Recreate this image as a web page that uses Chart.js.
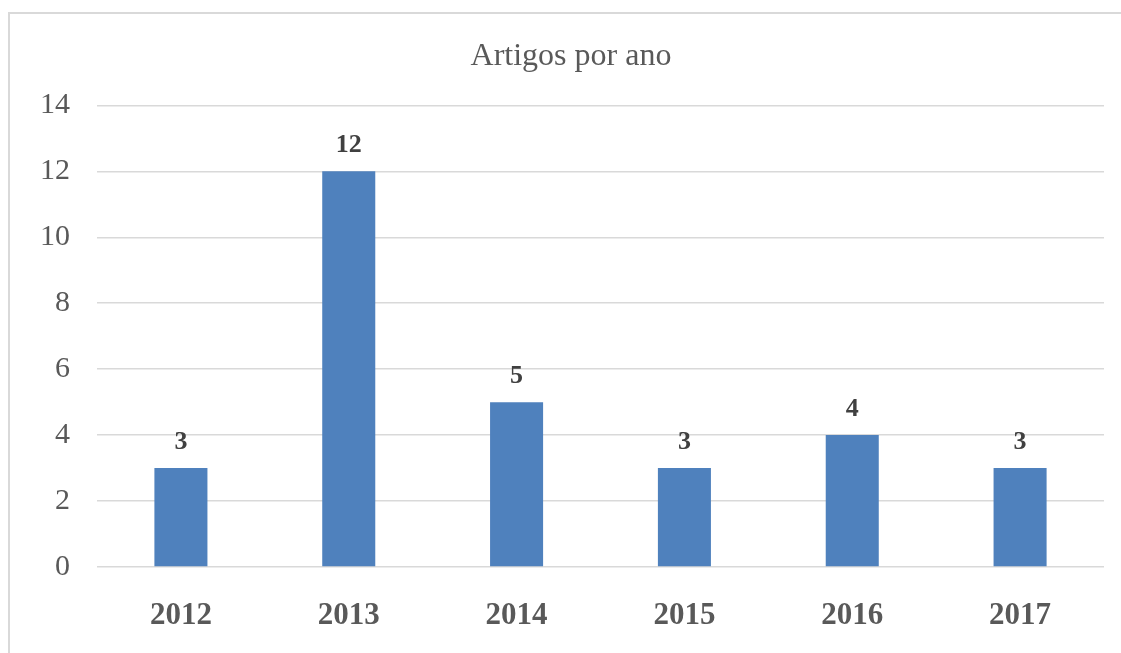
<!DOCTYPE html>
<html>
<head>
<meta charset="utf-8">
<script src="https://cdn.jsdelivr.net/npm/chart.js@4/dist/chart.umd.min.js"></script>
<style>
  html, body { margin: 0; padding: 0; background: #fff; overflow: hidden; }
  #frame { position: absolute; left: 8px; top: 12px; width: 1200px; height: 800px;
           border: 2px solid #d9d9d9; box-sizing: border-box; }
  #wrap { position: absolute; left: 0; top: 0; width: 1121px; height: 653px; }
</style>
</head>
<body>
<div id="frame"></div>
<div id="wrap"><canvas id="anoChart" width="1121" height="653"></canvas></div>
<script>
var years = ["2012", "2013", "2014", "2015", "2016", "2017"];
var artigos = [3, 12, 5, 3, 4, 3];
var yMin = 0, yMax = 14, yStep = 2;

// values above the bars
var valueLabels = {
    id: "valueLabels",
    afterDatasetsDraw: function(chart) {
        var ctx = chart.ctx;
        var meta = chart.getDatasetMeta(0);
        ctx.save();
        ctx.font = "bold 26px 'Liberation Serif'";
        ctx.fillStyle = "#404040";
        ctx.textAlign = "center";
        ctx.textBaseline = "middle";
        meta.data.forEach(function(bar, i) {
            ctx.fillText(artigos[i], bar.x, bar.y - 26);
        });
        ctx.restore();
    }
};

var config = {
    type: "bar",
    data: {
        labels: years,
        datasets: [{
            label: "Artigos",
            data: artigos,
            backgroundColor: "#4f81bd",
            categoryPercentage: 1,
            barPercentage: 0.316
        }]
    },
    options: {
        responsive: false,
        animation: false,
        layout: { padding: { left: 38, right: 17, top: 0, bottom: 0 } },
        plugins: {
            legend: { display: false },
            tooltip: { enabled: false },
            title: {
                display: true,
                text: "Artigos por ano",
                color: "#595959",
                font: { family: "Liberation Serif", size: 32, weight: "normal", lineHeight: 1.2 },
                padding: { top: 37, bottom: 30 }
            }
        },
        scales: {
            x: {
                afterFit: function(scale) { scale.height = 86; },
                grid: { display: false, drawTicks: false },
                border: { display: false },
                ticks: {
                    color: "#595959",
                    padding: 30,
                    font: { family: "Liberation Serif", size: 31, weight: "bold", lineHeight: 1.2 }
                }
            },
            y: {
                min: yMin,
                max: yMax,
                afterFit: function(scale) { scale.width = 59; },
                grid: { color: "#d9d9d9", lineWidth: 1.5, drawTicks: false },
                border: { display: false },
                ticks: {
                    stepSize: yStep,
                    color: "#595959",
                    padding: 27,
                    font: { family: "Liberation Serif", size: 30, lineHeight: 1.2 }
                }
            }
        }
    },
    plugins: [valueLabels]
};

var anoChart = new Chart(document.getElementById("anoChart"), config);
</script>
</body>
</html>
